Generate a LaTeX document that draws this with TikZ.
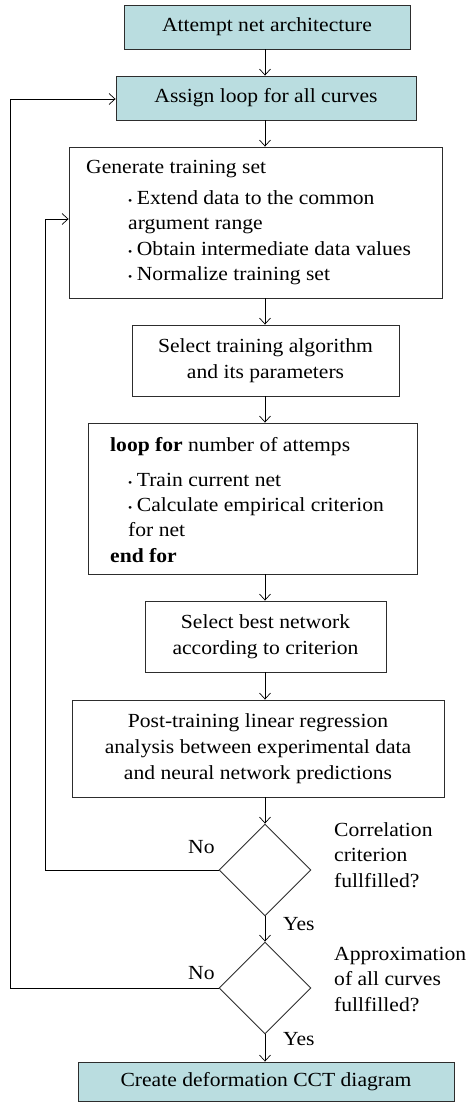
\documentclass[tikz,border=0pt]{standalone}
\usepackage{fontspec}
\setmainfont[FakeStretch=1.08]{Liberation Serif}
\usetikzlibrary{arrows.meta,shapes.geometric}
\definecolor{tealfill}{RGB}{186,221,224}
\definecolor{edge}{RGB}{45,45,45}
\newcommand{\bul}{{\fontsize{11}{11}\selectfont\textbullet}\hspace{4.5pt}}
\begin{document}
\begin{tikzpicture}[x=1pt,y=-1pt,
  txt/.style={font=\fontsize{20}{25.5}\selectfont, inner sep=0pt},
  box/.style={draw=edge, line width=0.9pt, inner sep=0pt, align=center, font=\fontsize{20}{25.8}\selectfont},
  hbox/.style={box, fill=tealfill},
  dia/.style={draw=edge, line width=0.9pt, diamond, aspect=1, inner sep=0pt, minimum width=92pt, minimum height=92pt},
  arr/.style={draw=black, line width=0.7pt, -{Straight Barb[length=6pt,width=11pt,line width=0.7pt]}}]
\useasboundingbox (0,0) rectangle (467,1105);
% boxes
\node[hbox, minimum width=286pt, minimum height=44pt] (b1) at (267,27) {Attempt net architecture};
\node[hbox, minimum width=300pt, minimum height=44pt] (b2) at (266,98) {Assign loop for all curves};
\node[box, minimum width=373pt, minimum height=151pt] (b3) at (255.5,222.5) {};
\node[box, minimum width=267pt, minimum height=71pt] (b4) at (265.5,360.5) {Select training algorithm\\and its parameters};
\node[box, minimum width=329pt, minimum height=151pt] (b5) at (252.5,498.5) {};
\node[box, minimum width=241pt, minimum height=71pt] (b6) at (265.5,636.5) {Select best network\\according to criterion};
\node[box, minimum width=372pt, minimum height=97pt] (b7) at (258,748.5) {Post-training linear regression\\analysis between experimental data\\and neural network predictions};
\node[dia] (d1) at (265,870) {};
\node[dia] (d2) at (265,988) {};
\node[hbox, minimum width=376pt, minimum height=39pt] (b8) at (266,1081.5) {Create deformation CCT diagram};
% left-aligned texts
\node[txt, anchor=base west] (t3a) at (86,173) {Generate training set};
\node[txt, anchor=base west] (t3b) at (128,204) {\bul Extend data to the common};
\node[txt, anchor=base west] (t3c) at (128,229.5) {argument range};
\node[txt, anchor=base west] (t3d) at (128,255) {\bul Obtain intermediate data values};
\node[txt, anchor=base west] (t3e) at (128,280.5) {\bul Normalize training set};
\node[txt, anchor=base west] (t5a) at (110,451) {\textbf{loop for} number of attemps};
\node[txt, anchor=base west] (t5b) at (128,486) {\bul Train current net};
\node[txt, anchor=base west] (t5c) at (128,511) {\bul Calculate empirical criterion};
\node[txt, anchor=base west] (t5d) at (128,536.5) {for net};
\node[txt, anchor=base west] (t5e) at (110,562) {\textbf{end for}};
% diamond texts
\node[txt, anchor=base west] (q1a) at (334,836) {Correlation};
\node[txt, anchor=base west] (q1b) at (334,861.5) {criterion};
\node[txt, anchor=base west] (q1c) at (334,887) {fullfilled?};
\node[txt, anchor=base west] (q2a) at (334,960) {Approximation};
\node[txt, anchor=base west] (q2b) at (334,985.5) {of all curves};
\node[txt, anchor=base west] (q2c) at (334,1011) {fullfilled?};
\node[txt, anchor=base west] (no1) at (188,853) {No};
\node[txt, anchor=base west] (no2) at (188,979) {No};
\node[txt, anchor=base west] (yes1) at (283,930) {Yes};
\node[txt, anchor=base west] (yes2) at (283,1045) {Yes};
% connectors
\draw[arr] (b1.south -| d1.north) -- (b2.north -| d1.north);
\draw[arr] (b2.south -| d1.north) -- (b3.north -| d1.north);
\draw[arr] (b3.south -| d1.north) -- (b4.north -| d1.north);
\draw[arr] (b4.south -| d1.north) -- (b5.north -| d1.north);
\draw[arr] (b5.south -| d1.north) -- (b6.north -| d1.north);
\draw[arr] (b6.south -| d1.north) -- (b7.north -| d1.north);
\draw[arr] (b7.south -| d1.north) -- (d1.north);
\draw[arr] (d1.south) -- (d2.north);
\draw[arr] (d2.south) -- (b8.north -| d2.south);
\coordinate (c1) at (45,219);
\coordinate (c2) at (10,99);
\draw[arr] (d1.west) -| (c1) -- (c1 -| b3.west);
\draw[arr] (d2.west) -| (c2) -- (c2 -| b2.west);
\end{tikzpicture}
\end{document}
